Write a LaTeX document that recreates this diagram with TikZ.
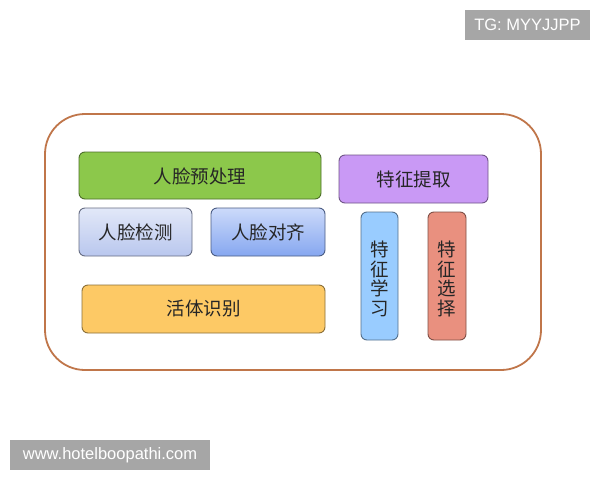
\documentclass[tikz,border=0pt]{standalone}
\usepackage{fontspec}
\newfontfamily\cjk{Noto Sans CJK SC}
\setmainfont{Liberation Sans}
\begin{document}
\begin{tikzpicture}[x=1pt,y=-1pt,
  box/.style={draw=#1!55!black, line width=0.9pt, rounded corners=6pt, inner sep=0pt},
  lbl/.style={font=\cjk\fontsize{18.5}{19.5}\selectfont, text=black!85},
  wm/.style={text=white, font=\fontsize{16.5}{18}\selectfont, inner sep=0pt}]
\useasboundingbox (0,0) rectangle (600,480);
\fill[white] (0,0) rectangle (600,480);
\definecolor{gr}{HTML}{8CC84B}
\definecolor{lav1}{HTML}{E2E8F8}
\definecolor{lav2}{HTML}{B9C7EE}
\definecolor{bl1}{HTML}{CCDAFA}
\definecolor{bl2}{HTML}{86A7F0}
\definecolor{org}{HTML}{FDC965}
\definecolor{pur}{HTML}{C999F5}
\definecolor{lb}{HTML}{99CCFF}
\definecolor{sal}{HTML}{E9907F}
\definecolor{brn}{HTML}{C0764A}
% outer frame
\draw[brn, line width=1.8pt, rounded corners=40pt] (45,114) rectangle (541,370);
% boxes
\draw[box=gr, fill=gr] (79,152) rectangle (321,199);
\node[lbl] (pre) at (200,176) {人脸预处理};
\draw[box=lav2, top color=lav1, bottom color=lav2] (79,208) rectangle (192,256);
\node[lbl] (det) at (135.5,232) {人脸检测};
\draw[box=bl2, top color=bl1, bottom color=bl2] (211,208) rectangle (325,256);
\node[lbl] (ali) at (268,232) {人脸对齐};
\draw[box=org, fill=org] (82,285) rectangle (325,333);
\node[lbl] (live) at (203.5,309) {活体识别};
\draw[box=pur, fill=pur] (339,155) rectangle (488,203);
\node[lbl] (fe) at (413.5,179) {特征提取};
\draw[box=lb, fill=lb] (361,212) rectangle (398,340);
\node[lbl, text width=19pt, align=center] (fl) at (379.5,279) {特\\征\\学\\习};
\draw[box=sal, fill=sal] (428,212) rectangle (466,340);
\node[lbl, text width=19pt, align=center] (fs) at (447,279) {特\\征\\选\\择};
% watermarks
\fill[black!35] (465,10) rectangle (590,40);
\node[wm] (tg) at (527.5,25) {TG: MYYJJPP};
\fill[black!35] (10,440) rectangle (210,470);
\node[wm] (www) at (110,455) {www.hotelboopathi.com};
\end{tikzpicture}
\end{document}
